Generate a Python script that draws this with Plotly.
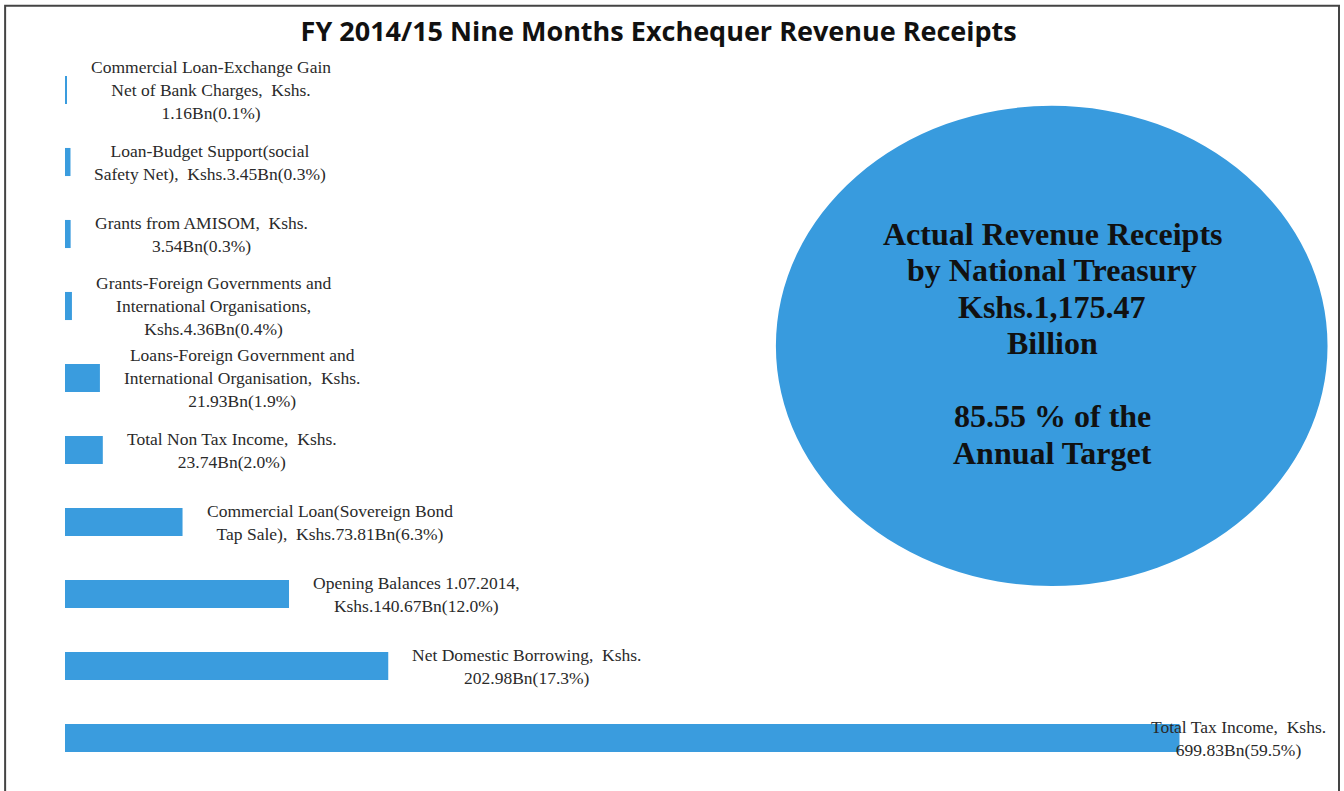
import plotly.graph_objects as go

categories = [
    "Total Tax Income",
    "Net Domestic Borrowing",
    "Opening Balances 1.07.2014",
    "Commercial Loan(Sovereign Bond Tap Sale)",
    "Total Non Tax Income",
    "Loans-Foreign Government and International Organisation",
    "Grants-Foreign Governments and International Organisations",
    "Grants from AMISOM",
    "Loan-Budget Support(social Safety Net)",
    "Commercial Loan-Exchange Gain Net of Bank Charges",
]
values = [699.83, 202.98, 140.67, 73.81, 23.74, 21.93, 4.36, 3.54, 3.45, 1.16]
labels = [
    "Total Tax Income,  Kshs.<br>699.83Bn(59.5%)",
    "Net Domestic Borrowing,  Kshs.<br>202.98Bn(17.3%)",
    "Opening Balances 1.07.2014,<br>Kshs.140.67Bn(12.0%)",
    "Commercial Loan(Sovereign Bond<br>Tap Sale),  Kshs.73.81Bn(6.3%)",
    "Total Non Tax Income,  Kshs.<br>23.74Bn(2.0%)",
    "Loans-Foreign Government and<br>International Organisation,  Kshs.<br>21.93Bn(1.9%)",
    "Grants-Foreign Governments and<br>International Organisations,<br>Kshs.4.36Bn(0.4%)",
    "Grants from AMISOM,  Kshs.<br>3.54Bn(0.3%)",
    "Loan-Budget Support(social<br>Safety Net),  Kshs.3.45Bn(0.3%)",
    "Commercial Loan-Exchange Gain<br>Net of Bank Charges,  Kshs.<br>1.16Bn(0.1%)",
]
title_text = "FY 2014/15 Nine Months Exchequer Revenue Receipts"
circle_lines = ["Actual Revenue Receipts", "by National Treasury", "Kshs.1,175.47",
                "Billion", "", "85.55 % of the", "Annual Target"]

BAR_COLOR = "#3a9cde"
CIRCLE_COLOR = "#389bde"
X_MAX = 800
LABEL_FONT = dict(family="Liberation Serif", size=17.5, color="#2a2a2a")

fig = go.Figure(go.Bar(
    x=values, y=categories, orientation="h",
    marker=dict(color=BAR_COLOR, line=dict(width=0)),
    hoverinfo="skip",
))

annotations = []
for cat, val, lab in zip(categories, values, labels):
    if val > 0.8 * X_MAX:
        annotations.append(dict(x=1, xref="paper", y=cat, yref="y", text=lab,
                                xanchor="right", yanchor="middle", xshift=-11,
                                showarrow=False, align="center", font=LABEL_FONT))
    else:
        annotations.append(dict(x=val, xref="x", y=cat, yref="y", text=lab,
                                xanchor="left", yanchor="middle", xshift=22,
                                showarrow=False, align="center", font=LABEL_FONT))

# circle text, one annotation per line for tighter line spacing
cx, cy = 0.775, 0.598
step = 36.5 / 720
mid = (len(circle_lines) - 1) / 2
for i, line in enumerate(circle_lines):
    if not line:
        continue
    annotations.append(dict(x=cx, y=cy + (mid - i) * step, xref="paper", yref="paper",
                            text="<b>" + line + "</b>", showarrow=False,
                            xanchor="center", yanchor="middle",
                            font=dict(family="Liberation Serif", size=32, color="#111")))

shapes = [
    dict(type="circle", xref="paper", yref="paper", x0=0.558, x1=0.991, y0=0.261, y1=0.928,
         fillcolor=CIRCLE_COLOR, line=dict(width=0), layer="below"),
    dict(type="rect", xref="paper", yref="paper", x0=-0.047, x1=1.0, y0=-0.05, y1=1.067,
         line=dict(color="#444", width=2), fillcolor="rgba(0,0,0,0)"),
]

fig.update_layout(
    width=1344, height=791,
    margin=dict(l=65, r=5, t=54, b=17),
    paper_bgcolor="white", plot_bgcolor="white",
    bargap=0.61, showlegend=False,
    title=dict(text="<b>" + title_text + "</b>", x=0.466, xanchor="center", y=0.96,
               yanchor="middle", xref="paper", yref="container",
               font=dict(family="Open Sans", size=27, color="#111")),
    xaxis=dict(range=[0, X_MAX], visible=False, fixedrange=True),
    yaxis=dict(categoryorder="array", categoryarray=categories, range=[-0.5, 9.5],
               visible=False, fixedrange=True),
    annotations=annotations, shapes=shapes,
)

fig.write_html("out.html", config={"displayModeBar": False},
               post_script="document.body.style.margin='0';document.body.style.overflow='hidden';")
